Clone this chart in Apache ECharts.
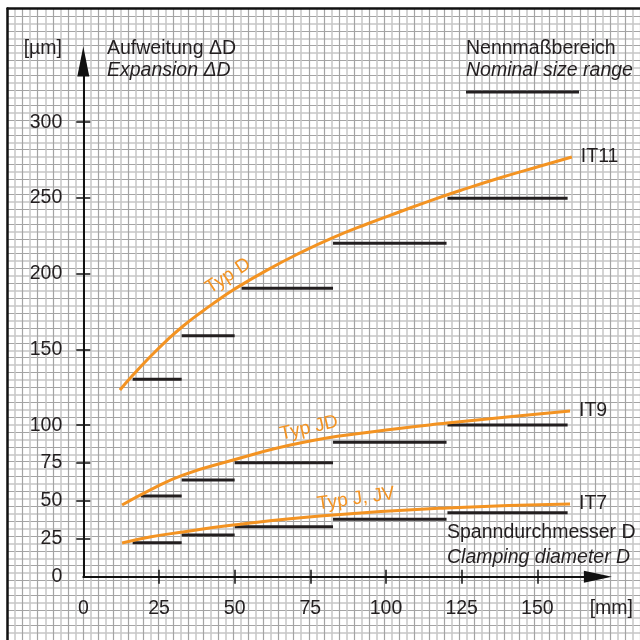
<!DOCTYPE html>
<html><head><meta charset="utf-8">
<script src="https://cdn.jsdelivr.net/npm/echarts@6/dist/echarts.min.js"></script>
<style>html,body{margin:0;padding:0;background:#fff}#c{width:640px;height:640px}</style>
</head><body><div id="c"></div>
<script>
// ---- data ----
const xTickLabels = [0, 25, 50, 75, 100, 125, 150];
const xTicks = [25, 50, 75, 100, 125, 150];
const yTickLabels = [0, 25, 50, 75, 100, 150, 200, 250, 300];
const yTicks = [25, 50, 75, 100, 150, 200, 250, 300];

// orange curves [mm, µm]
const typD = [[12.1,123.2],[16.4,133.1],[22,145],[27.7,156.2],[33,165.5],[38.6,174.1],[44,181.8],[49.5,189.3],[60.7,202.4],[71.6,213.7],[82.5,223.8],[93.7,232.8],[104.6,240.9],[114.5,248.1],[125.1,255.3],[137.5,263.2],[150.2,270.6],[161.4,277]];
const typJD = [[12.8,47.3],[22.0,57.2],[32.9,67.1],[49.5,77],[71.6,88.2],[95,95.5],[120.2,101.4],[160.8,109.4]];
const typJ = [[12.8,22.2],[22.0,26.2],[32.9,29.5],[49.5,34.1],[78.2,40.1],[120.2,45.4],[160.8,48]];

// nominal size ranges (black segments)
const it11Ranges = [[16.3,32.5],[32.5,50],[52.3,82.5],[82.5,120],[120.3,160]];
const it11Values = [130.3,159.1,190.4,220.1,249.8];
const it9Ranges = [[19,32.5],[32.5,50],[50,82.5],[82.5,120],[120.3,160]];
const it9Values = [53.3,63.8,75.2,88.7,100.1];
const it7Ranges = [[16.3,32.5],[32.5,50],[50,82.5],[82.5,120],[120.3,160]];
const it7Values = [22.4,27.5,33,37.9,42.2];

const curveNames = ['IT11', 'IT9', 'IT7'];

// ---- chart ----
const FONT = 'Liberation Sans, Arial, Helvetica, sans-serif';
const TXT = '#231f20';
const ORANGE = '#f39322';
const FS = 19.5;
const chart = echarts.init(document.getElementById('c'), null, {renderer: 'canvas'});

const segSeries = [];
[[it11Ranges, it11Values], [it9Ranges, it9Values], [it7Ranges, it7Values]].forEach(([rs, vs]) => {
  rs.forEach((r, i) => {
    segSeries.push({
      type: 'line', xAxisIndex: 1, yAxisIndex: 1, silent: true,
      showSymbol: false, symbol: 'none',
      lineStyle: {color: TXT, width: 3, cap: 'butt'},
      data: [[r[0], vs[i]], [r[1], vs[i]]], z: 3
    });
  });
});

function curve(data, name) {
  return {
    type: 'line', xAxisIndex: 1, yAxisIndex: 1, silent: true,
    showSymbol: false, symbol: 'none', smooth: 0.5,
    lineStyle: {color: ORANGE, width: 3},
    data: data, z: 4,
    endLabel: {show: true, formatter: name, color: TXT, fontSize: FS, fontFamily: FONT, distance: 9}
  };
}

const gx = 83.3, gy0 = 576.7, sx = 3.027, sy = 1.515;

function txt(x, y, text, opts) {
  opts = opts || {};
  return {
    type: 'text', x: x, y: y, rotation: opts.rot ? opts.rot * Math.PI / 180 : 0, z: 10,
    style: {
      text: text, fill: opts.fill || TXT,
      font: (opts.italic ? 'italic ' : '') + (opts.size || FS) + 'px ' + FONT,
      textAlign: opts.align || 'left', textVerticalAlign: 'middle'
    }
  };
}

chart.setOption({
  animation: false,
  backgroundColor: '#fff',
  grid: [
    {left: gx - 25 * sx, top: gy0 - 375 * sy, width: 210 * sx, height: 425 * sy, containLabel: false},
    {left: gx, top: gy0 - 340 * sy, width: 170 * sx, height: 340 * sy, containLabel: false}
  ],
  xAxis: [
    {type: 'value', gridIndex: 0, min: -25, max: 185, interval: 5, position: 'top',
     axisLine: {show: true, onZero: false, lineStyle: {color: '#111', width: 2.5}},
     axisTick: {show: false}, axisLabel: {show: false},
     splitLine: {show: true, lineStyle: {color: '#a4a4a4', width: 1.2}},
     minorTick: {show: false, splitNumber: 2},
     minorSplitLine: {show: true, lineStyle: {color: '#c6c6c6', width: 1.5}}},
    {type: 'value', gridIndex: 1, min: 0, max: 170, position: 'bottom',
     axisLine: {show: true, onZero: false, symbol: ['none', 'triangle'], symbolSize: [12, 28], lineStyle: {color: '#111', width: 2}},
     axisTick: {show: true, customValues: xTicks, length: 7, lineStyle: {color: '#111', width: 1.5}},
     axisLabel: {show: true, customValues: xTickLabels, margin: 22, color: TXT, fontSize: FS, fontFamily: FONT},
     splitLine: {show: false}},
    {type: 'value', gridIndex: 1, min: 0, max: 170, position: 'bottom',
     axisLine: {show: false, onZero: false},
     axisTick: {show: true, inside: true, customValues: xTicks, length: 7, lineStyle: {color: '#111', width: 1.5}},
     axisLabel: {show: false}, splitLine: {show: false}}
  ],
  yAxis: [
    {type: 'value', gridIndex: 0, min: -50, max: 375, interval: 10, position: 'left',
     axisLine: {show: true, onZero: false, lineStyle: {color: '#111', width: 2.5}},
     axisTick: {show: false}, axisLabel: {show: false},
     splitLine: {show: true, lineStyle: {color: '#a4a4a4', width: 1.2}},
     minorTick: {show: false, splitNumber: 2},
     minorSplitLine: {show: true, lineStyle: {color: '#c6c6c6', width: 1.5}}},
    {type: 'value', gridIndex: 1, min: 0, max: 340, position: 'left',
     axisLine: {show: true, onZero: false, symbol: ['none', 'triangle'], symbolSize: [12, 30], lineStyle: {color: '#111', width: 2}},
     axisTick: {show: true, customValues: yTicks, length: 7, lineStyle: {color: '#111', width: 1.5}},
     axisLabel: {show: true, customValues: yTickLabels, margin: 21, color: TXT, fontSize: FS, fontFamily: FONT},
     splitLine: {show: false}},
    {type: 'value', gridIndex: 1, min: 0, max: 340, position: 'left',
     axisLine: {show: false, onZero: false},
     axisTick: {show: true, inside: true, customValues: yTicks, length: 7, lineStyle: {color: '#111', width: 1.5}},
     axisLabel: {show: false}, splitLine: {show: false}}
  ],
  series: [
    {type: 'line', xAxisIndex: 0, yAxisIndex: 0, data: [], silent: true},
    curve(typD, curveNames[0]),
    curve(typJD, curveNames[1]),
    curve(typJ, curveNames[2])
  ].concat(segSeries),
  graphic: [
    txt(62, 49, '[µm]', {align: 'right'}),
    txt(107, 49, 'Aufweitung ΔD'),
    txt(107, 71, 'Expansion ΔD', {italic: true}),
    txt(466, 49, 'Nennmaßbereich'),
    txt(466, 71, 'Nominal size range', {italic: true}),
    {type: 'line', z: 10, shape: {x1: 466, y1: 92, x2: 579, y2: 92}, style: {stroke: TXT, lineWidth: 3}},
    txt(447, 533, 'Spanndurchmesser D'),
    txt(447, 558, 'Clamping diameter D', {italic: true}),
    txt(633, 609, '[mm]', {align: 'right'}),
    txt(228, 276, 'Typ D', {align: 'center', fill: ORANGE, rot: 33, size: 19}),
    txt(309, 428, 'Typ JD', {align: 'center', fill: ORANGE, rot: 13, size: 19}),
    txt(356, 499, 'Typ J, JV', {align: 'center', fill: ORANGE, rot: 8, size: 19})
  ]
});
</script>
</body></html>
